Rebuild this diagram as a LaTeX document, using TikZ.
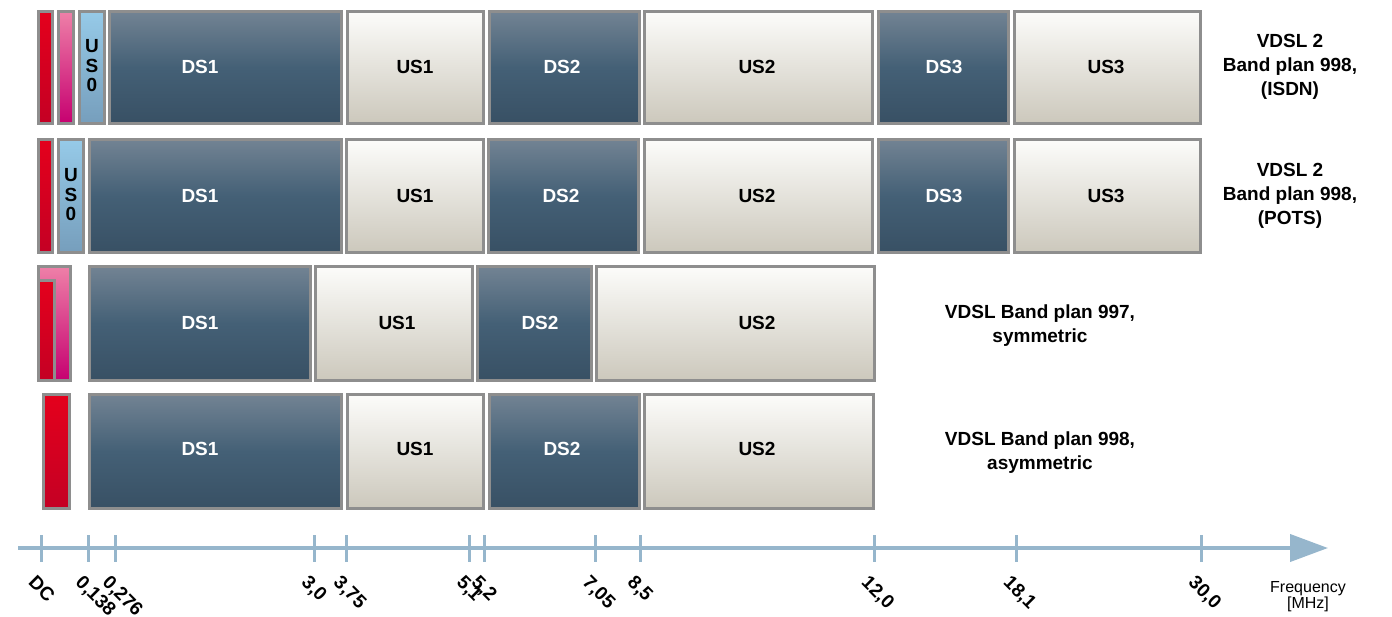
\documentclass[tikz,border=0pt]{standalone}
\usepackage{fontspec}
\setsansfont{Liberation Sans}
\usepackage{xcolor}
\usepackage{tikz}
\usetikzlibrary{arrows.meta}
\definecolor{dstop}{RGB}{114,131,147}
\definecolor{dsmid}{RGB}{68,96,118}
\definecolor{dsbot}{RGB}{56,80,100}
\definecolor{ustop}{RGB}{252,252,250}
\definecolor{usbot}{RGB}{204,200,188}
\definecolor{redtop}{RGB}{228,0,28}
\definecolor{redbot}{RGB}{196,0,36}
\definecolor{pinktop}{RGB}{238,128,168}
\definecolor{pinkbot}{RGB}{198,0,112}
\definecolor{bluetop}{RGB}{150,202,232}
\definecolor{bluebot}{RGB}{118,158,188}
\definecolor{bandedge}{RGB}{142,142,142}
\definecolor{axisblue}{RGB}{150,182,204}
\tikzset{
    x=1pt, y=-1pt,
    band/.style={draw=bandedge, line width=3pt},
    ds/.style={band, top color=dstop, bottom color=dsbot, middle color=dsmid},
    us/.style={band, top color=ustop, bottom color=usbot},
    red/.style={band, top color=redtop, bottom color=redbot},
    pink/.style={band, top color=pinktop, bottom color=pinkbot},
    blue/.style={band, top color=bluetop, bottom color=bluebot},
    ds label/.style={text=white, font=\sffamily\bfseries\fontsize{19}{23}\selectfont},
    us label/.style={text=black, font=\sffamily\bfseries\fontsize{19}{23}\selectfont},
    us0 label/.style={us label, align=center, font=\sffamily\bfseries\fontsize{19}{19.5}\selectfont},
    plan/.style={align=center, font=\sffamily\bfseries\fontsize{19}{24}\selectfont},
    axis/.style={draw=axisblue, line width=4pt, -{Triangle[length=38pt, width=27pt]}},
    tick/.style={draw=axisblue, line width=3pt},
    ticklabel/.style={rotate=-45, anchor=north west, inner sep=0pt,
        font=\sffamily\bfseries\fontsize{19}{22}\selectfont},
}

\begin{document}
\begin{tikzpicture}
    \useasboundingbox (0,0) rectangle (1392,616);

    % row 1: VDSL2 998 ISDN
    \draw[red]  (38.5,11.5) rectangle (52.5,123.5);
    \draw[pink] (58,11.5) rectangle (73.5,123.5);
    \draw[blue] (79,11.5) rectangle (104.5,123.5);
    \node[us0 label] (a-us0) at (92,66) {U\\S\\0};
    \foreach \xa/\xb/\lab/\lx/\kind in {108/343/DS1/200/ds, 346/485/US1/415/us,
        488/641/DS2/562/ds, 643/874/US2/757/us, 877/1010/DS3/944/ds, 1013/1202/US3/1106/us} {
        \draw[\kind] (\xa+1.5,11.5) rectangle (\xb-1.5,123.5);
        \node[\kind\space label] (a-\lab) at (\lx,67) {\lab};
    }
    \node[plan] (p-isdn) at (1290,67) {VDSL 2\\Band plan 998,\\(ISDN)};

    % row 2: VDSL2 998 POTS
    \draw[red]  (38.5,139.5) rectangle (52.5,252.5);
    \draw[blue] (58.5,139.5) rectangle (83.5,252.5);
    \node[us0 label] (b-us0) at (71,195) {U\\S\\0};
    \foreach \xa/\xb/\lab/\lx/\kind in {88/343/DS1/200/ds, 345/485/US1/415/us,
        487/640/DS2/561/ds, 643/874/US2/757/us, 877/1010/DS3/944/ds, 1013/1202/US3/1106/us} {
        \draw[\kind] (\xa+1.5,139.5) rectangle (\xb-1.5,252.5);
        \node[\kind\space label] (b-\lab) at (\lx,196) {\lab};
    }
    \node[plan] (p-pots) at (1290,196) {VDSL 2\\Band plan 998,\\(POTS)};

    % row 3: 997 symmetric
    \draw[pink] (38.5,266.5) rectangle (70.5,380.5);
    \draw[red]  (38.5,280.5) rectangle (54,380.5);
    \foreach \xa/\xb/\lab/\lx/\kind in {88/312/DS1/200/ds, 314/474/US1/397/us,
        476/593/DS2/540/ds, 595/876/US2/757/us} {
        \draw[\kind] (\xa+1.5,266.5) rectangle (\xb-1.5,380.5);
        \node[\kind\space label] (c-\lab) at (\lx,323) {\lab};
    }
    \node[plan] (p-997) at (1040,326) {VDSL Band plan 997,\\symmetric};

    % row 4: 998 asymmetric
    \draw[red] (43.5,394.5) rectangle (69.5,508.5);
    \foreach \xa/\xb/\lab/\lx/\kind in {88/343/DS1/200/ds, 346/485/US1/415/us,
        488/641/DS2/562/ds, 643/875/US2/757/us} {
        \draw[\kind] (\xa+1.5,394.5) rectangle (\xb-1.5,508.5);
        \node[\kind\space label] (d-\lab) at (\lx,449) {\lab};
    }
    \node[plan] (p-998) at (1040,453) {VDSL Band plan 998,\\asymmetric};

    % frequency axis
    \coordinate (ax0) at (18,548);
    \coordinate (ax1) at (1328,548);
    \draw[axis] (ax0) -- (ax1);
    \foreach \x/\lab [count=\k] in {41/DC, 88/{0,138}, 115/{0,276}, 314/{3,0}, 346/{3,75},
        469/{5,1}, 484/{5,2}, 595/{7,05}, 640/{8,5}, 874/{12,0}, 1016/{18,1}, 1201/{30,0}} {
        \coordinate (tk\k) at (\x,548);
        \draw[tick] ([yshift=13pt]tk\k) -- ([yshift=-14pt]tk\k);
        \node[ticklabel] (tl\k) at (\x-4,574) {\lab};
    }
    \node[align=center, font=\sffamily\fontsize{16}{16}\selectfont] (fq) at (1308,597) {Frequency\\{[MHz]}};
\end{tikzpicture}
\end{document}
